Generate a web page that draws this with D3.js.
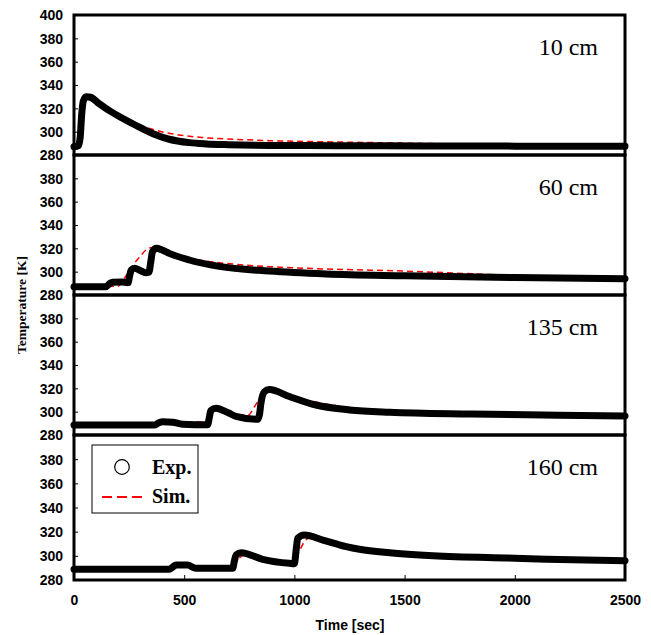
<!DOCTYPE html>
<html>
<head>
<meta charset="utf-8">
<script src="https://cdn.jsdelivr.net/npm/d3@7"></script>
<style>
  body { margin: 0; background: #fff; }
  .tick text { font-family: "Liberation Sans", Arial, sans-serif; font-weight: bold; font-size: 14px; fill: #000; }
</style>
</head>
<body>
<div id="chart"></div>
<script>
// panel labels and x/y ticks
var panelNames = ["10 cm", "60 cm", "135 cm", "160 cm"];
var timeTicks = [0, 500, 1000, 1500, 2000, 2500];
var tempTicksTop = [280, 300, 320, 340, 360, 380, 400];
var tempTicks = [280, 300, 320, 340, 360, 380];

// experimental data [time sec, temperature K]
var exp10 = [[0,287],[20,288],[28,295],[35,315],[42,326],[55,330],[75,329.5],[114,324],[160,318],[205,313],[280,305.5],[356,298.5],[432,293.5],[523,290.6],[600,289.5],[700,288.8],[886,288.2],[1200,288],[1600,287.8],[2000,287.6],[2500,287.5]];
var exp60 = [[0,287],[144,287],[160,289.5],[175,291],[220,291.2],[245,290.5],[252,296],[260,301.5],[275,303],[300,301],[326,299],[340,299.5],[348,308],[356,317],[374,320],[400,318.5],[432,315.7],[523,310],[659,304.5],[886,300.5],[1144,298],[1500,296.5],[2000,295],[2500,294]];
var exp135 = [[0,288.5],[364,288.5],[385,290.5],[402,291.4],[447,291],[492,289.3],[606,288.7],[614,295],[621,301],[644,303],[700,299],[735,296],[833,293.4],[842,298],[848,307],[864,317],[886,319],[977,313],[1098,305.7],[1250,301.5],[1432,299.5],[1800,298],[2200,297],[2500,296.3]];
var exp160 = [[0,289],[432,289],[450,291],[462,292.4],[515,292.4],[553,289.7],[720,289.7],[728,296],[735,300.7],[758,302.6],[856,297.1],[977,293.8],[1000,293.5],[1008,305],[1015,314.5],[1045,317.2],[1129,313.1],[1235,307.6],[1295,305.4],[1432,302.5],[1629,300],[2000,298],[2144,297.2],[2500,296]];

// simulation data [time sec, temperature K]
var sim10 = [[0,281],[5,287],[20,288],[30,300],[40,318],[50,328],[70,330],[114,324.5],[205,313.5],[280,307],[356,302],[432,298.6],[583,295],[735,293.4],[886,292.3],[1145,291.3],[1400,290.5],[1700,289.6],[2000,289],[2500,288.3]];
var sim60 = [[0,281],[5,287],[200,287.5],[227,294],[250,300],[280,308.6],[300,313],[326,318.6],[356,320.8],[400,318.3],[432,316],[523,311.5],[583,309.5],[735,306.3],[886,304.3],[1144,302.3],[1500,300.5],[1900,297.5],[2500,295]];
var sim135 = [[0,281],[5,288.5],[380,289],[420,291.5],[540,291.3],[600,291],[625,298],[650,302.5],[705,298.6],[790,297],[818,304],[845,312],[870,317.5],[900,317.5],[977,313.5],[1160,306],[1432,301],[1800,299],[2500,296.5]];
var sim160 = [[0,281],[5,289],[440,289],[480,291.5],[560,291],[720,290],[745,297],[780,301.5],[856,298],[977,295],[1010,300],[1045,311.5],[1080,316],[1129,313.8],[1235,308.5],[1432,304],[1700,301],[2000,298.6],[2500,296.5]];

var expData = [exp10, exp60, exp135, exp160];
var simData = [sim10, sim60, sim135, sim160];

var svg = d3.select("#chart").append("svg").attr("width", 651).attr("height", 635),
    left = 74, right = 625,
    tops = [15, 155, 295, 435],
    bottoms = [155, 295, 435, 580];

var x = d3.scaleLinear().domain([0, 2500]).range([left, right]);

panelNames.forEach(function (name, i) {
  var y = d3.scaleLinear().domain([280, 400]).range([bottoms[i], tops[i]]);
  var g = svg.append("g");

  var line = d3.line()
      .x(function (d) { return x(d[0]); })
      .y(function (d) { return y(d[1]); })
      .curve(d3.curveMonotoneX);

  // y axis, ticks inside
  g.append("g")
      .attr("transform", "translate(" + left + ",0)")
      .call(d3.axisRight(y).tickValues(i === 0 ? tempTicksTop : tempTicks).tickSize(4).tickFormat(d3.format("d")))
      .call(function (a) {
        a.select(".domain").remove();
        a.selectAll(".tick line").attr("stroke", "#000");
        a.selectAll(".tick text").attr("x", -11).attr("text-anchor", "end").attr("dy", "0.35em");
      });

  // simulation: red dashed (underneath the markers)
  g.append("path")
      .datum(simData[i])
      .attr("fill", "none")
      .attr("stroke", "#ff0000")
      .attr("stroke-width", 1.5)
      .attr("stroke-dasharray", "6,4")
      .attr("d", line);

  // experimental: thick black trace of markers
  g.append("path")
      .datum(expData[i])
      .attr("fill", "none")
      .attr("stroke", "#000")
      .attr("stroke-width", 7)
      .attr("stroke-linejoin", "round")
      .attr("stroke-linecap", "round")
      .attr("d", line);

  // frame
  g.append("rect")
      .attr("x", left).attr("y", tops[i])
      .attr("width", right - left).attr("height", bottoms[i] - tops[i])
      .attr("fill", "none").attr("stroke", "#000").attr("stroke-width", 3);

  g.append("text")
      .attr("x", 598).attr("y", tops[i] + 40)
      .attr("text-anchor", "end")
      .style("font-family", "'Liberation Serif', 'Times New Roman', serif")
      .style("font-size", "24px")
      .text(name);
});

// x axis at the bottom, ticks inside
svg.append("g")
    .attr("transform", "translate(0," + bottoms[3] + ")")
    .call(d3.axisTop(x).tickValues(timeTicks).tickSize(5).tickFormat(d3.format("d")))
    .call(function (a) {
      a.select(".domain").remove();
      a.selectAll(".tick line").attr("stroke", "#000");
      a.selectAll(".tick text").attr("y", 20).attr("dy", "0.35em");
    });

svg.append("text")
    .attr("x", 350).attr("y", 630)
    .attr("text-anchor", "middle")
    .style("font-family", "'Liberation Sans', Arial, sans-serif")
    .style("font-weight", "bold")
    .style("font-size", "14px")
    .text("Time [sec]");

svg.append("text")
    .attr("transform", "translate(26,305) rotate(-90)")
    .attr("text-anchor", "middle")
    .style("font-family", "'Liberation Serif', 'Times New Roman', serif")
    .style("font-weight", "bold")
    .style("font-size", "13.5px")
    .text("Temperature [K]");

// legend
var legend = svg.append("g");
legend.append("rect")
    .attr("x", 92).attr("y", 445).attr("width", 106).attr("height", 68)
    .attr("fill", "#fff").attr("stroke", "#000").attr("stroke-width", 1);
legend.append("circle")
    .attr("cx", 122).attr("cy", 467).attr("r", 7.3)
    .attr("fill", "none").attr("stroke", "#000").attr("stroke-width", 1.2);
legend.append("line")
    .attr("x1", 102).attr("x2", 142).attr("y1", 497).attr("y2", 497)
    .attr("stroke", "#ff0000").attr("stroke-width", 2).attr("stroke-dasharray", "10,5");
legend.selectAll("text.lab")
    .data(["Exp.", "Sim."])
    .enter().append("text")
    .attr("class", "lab")
    .attr("x", 152)
    .attr("y", function (d, k) { return k === 0 ? 474 : 503; })
    .style("font-family", "'Liberation Serif', 'Times New Roman', serif")
    .style("font-weight", "bold")
    .style("font-size", "20px")
    .text(function (d) { return d; });
</script>
</body>
</html>
